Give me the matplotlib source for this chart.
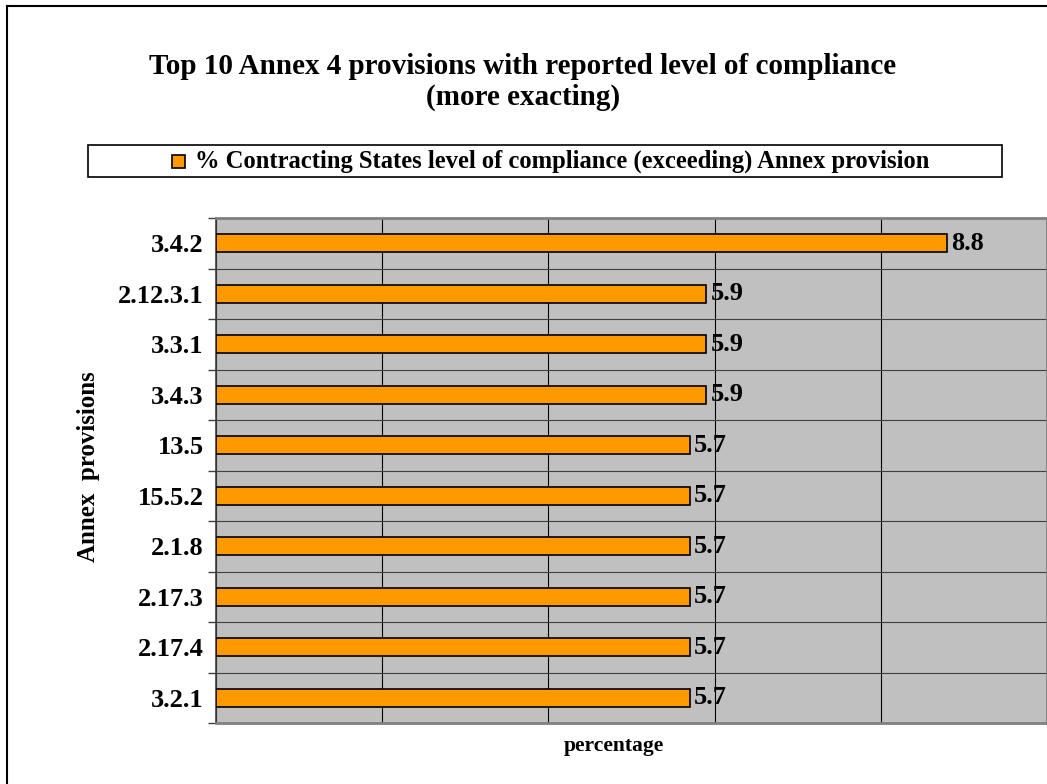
import matplotlib
matplotlib.use("Agg")
import matplotlib.pyplot as plt
from matplotlib.patches import Rectangle
from matplotlib.lines import Line2D

categories = ["3.4.2", "2.12.3.1", "3.3.1", "3.4.3", "13.5", "15.5.2", "2.1.8", "2.17.3", "2.17.4", "3.2.1"]
values = [8.8, 5.9, 5.9, 5.9, 5.7, 5.7, 5.7, 5.7, 5.7, 5.7]
x_ticks = [0, 2, 4, 6, 8, 10]

title_line1 = "Top 10 Annex 4 provisions with reported level of compliance"
title_line2 = "(more exacting)"
legend_text = "% Contracting States level of compliance (exceeding) Annex provision"

plt.rcParams['font.family'] = ['Liberation Serif', 'DejaVu Serif']
plt.rcParams['font.weight'] = 'bold'

W, H = 1047, 784
fig = plt.figure(figsize=(W / 100, H / 100), dpi=100)
fig.patch.set_facecolor('white')

# outer chart border (left and top visible)
fig.add_artist(Line2D([7 / W, 7 / W], [0, 1 - 6 / H], transform=fig.transFigure, color='black', lw=1.5))
fig.add_artist(Line2D([7 / W, 1], [1 - 6 / H, 1 - 6 / H], transform=fig.transFigure, color='black', lw=1.5))

left, right, top, bottom = 216, 1047, 218, 723
ax = fig.add_axes([left / W, 1 - bottom / H, (right - left) / W, (bottom - top) / H])
ax.set_facecolor('#C0C0C0')

n = len(categories)
ypos = list(range(n))
ax.barh(ypos, values, height=0.36, color='#FF9900', edgecolor='black', linewidth=1.2, zorder=3)
ax.set_xlim(0, 10)
ax.set_ylim(n - 0.5, -0.5)

# vertical gridlines
ax.set_xticks(x_ticks)
ax.xaxis.grid(True, color='black', linewidth=0.8, zorder=1)
ax.tick_params(axis='x', length=0, labelbottom=False)

# horizontal category-boundary gridlines
ax.set_yticks(ypos)
ax.set_yticklabels(categories, fontsize=19, fontweight='bold')
ax.set_yticks([i - 0.5 for i in range(n + 1)], minor=True)
ax.yaxis.grid(True, which='minor', color='#404040', linewidth=0.8, zorder=1)
ax.tick_params(axis='y', which='major', length=0, pad=9)
ax.tick_params(axis='y', which='minor', length=6, direction='out', color='#404040', width=1)
ax.set_axisbelow(True)

for s in ['top', 'right', 'bottom']:
    ax.spines[s].set_color('#808080')
    ax.spines[s].set_linewidth(2)
ax.spines['left'].set_color('#404040')
ax.spines['left'].set_linewidth(1.2)

for i, v in enumerate(values):
    ax.annotate(f"{v:.1f}", xy=(v, i), xytext=(3, 0), textcoords='offset points',
                ha='left', va='center', fontsize=19, fontweight='bold', zorder=4)

fig.text(614 / W, 1 - 746 / H, "percentage", ha='center', va='center', fontsize=15.5, fontweight='bold')
fig.text(88 / W, 1 - 467 / H, "Annex  provisions", ha='center', va='center', rotation=90,
         fontsize=18, fontweight='bold')

fig.text(523 / W, 1 - 67 / H, title_line1, ha='center', va='center', fontsize=21, fontweight='bold')
fig.text(523 / W, 1 - 97 / H, title_line2, ha='center', va='center', fontsize=21, fontweight='bold')

# legend box
fig.add_artist(Rectangle((88 / W, 1 - 177 / H), (1002 - 88) / W, (177 - 145) / H,
                         transform=fig.transFigure, facecolor='white', edgecolor='black', lw=1.2))
fig.add_artist(Rectangle((172 / W, 1 - 168 / H), 13 / W, 13 / H,
                         transform=fig.transFigure, facecolor='#FF9900', edgecolor='black', lw=1.2))
fig.text(195 / W, 1 - 161 / H, legend_text, ha='left', va='center', fontsize=17.7, fontweight='bold')

fig.savefig("out.png", dpi=100)
